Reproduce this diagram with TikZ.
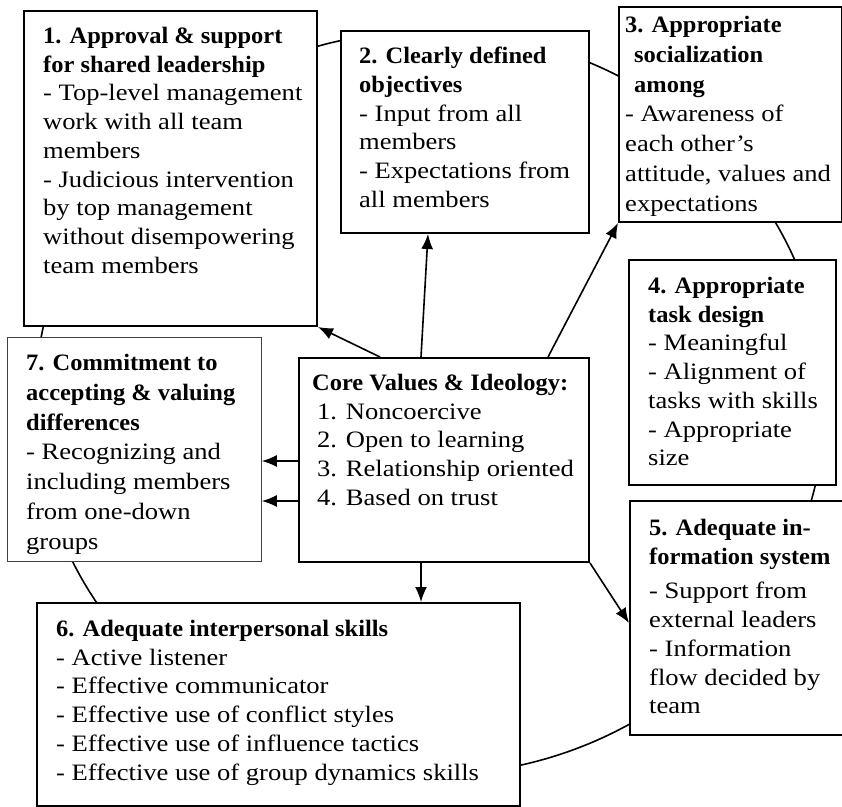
\documentclass[tikz,border=0pt]{standalone}
\usepackage{fontspec}
\setmainfont{Liberation Serif}[FakeStretch=1.13,BoldFeatures={FakeStretch=1.04}]
\usetikzlibrary{arrows.meta}
\tikzset{
  box/.style={draw, line width=2pt, fill=white, anchor=north west, inner sep=0pt},
  thinbox/.style={box, draw=black!75, line width=0.8pt},
  txt/.style={anchor=north west, align=left, inner sep=0pt, font=\fontsize{23.5}{28.7}\selectfont},
  widetxt/.style={txt, font=\fontsize{23.5}{29.8}\selectfont},
  link/.style={-{Latex[length=15pt,width=12pt]}, line width=1.6pt}
}

\begin{document}
\begin{tikzpicture}[x=1pt,y=-1pt]
\path [use as bounding box, clip] (0,0) rectangle (842,806);
\draw [line width=1.6pt] (430,403) ellipse [x radius=395, y radius=372];
\node [box, minimum width=293pt, minimum height=315pt] (appr) at (23,10) {};
\node [box, minimum width=248pt, minimum height=202pt] (obj) at (340,30) {};
\node [box, minimum width=223pt, minimum height=215pt] (social) at (618,6) {};
\node [box, minimum width=207pt, minimum height=225pt] (task) at (628,259) {};
\node [box, minimum width=240pt, minimum height=234pt] (info) at (629,500) {};
\node [box, minimum width=483pt, minimum height=203pt] (skill) at (36,602) {};
\node [thinbox, minimum width=254pt, minimum height=224pt] (diff) at (7,337) {};
\node [box, minimum width=290pt, minimum height=204pt] (core) at (298,357) {};
\node [txt] (appr text) at (43,27) {\textbf{1. Approval \& support}\\\textbf{for shared leadership}\\- Top-level management\\work with all team\\members\\- Judicious intervention\\by top management\\without disempowering\\team members};
\node [txt] (obj text) at (359,47) {\textbf{2. Clearly defined}\\\textbf{objectives}\\- Input from all\\members\\- Expectations from\\all members};
\node [widetxt] (social text) at (625,16) {\textbf{3. Appropriate}\\\hspace*{9pt}\textbf{socialization}\\\hspace*{9pt}\textbf{among}\\- Awareness of\\each other's\\attitude, values and\\expectations};
\node [txt] (task text) at (648,277) {\textbf{4. Appropriate}\\\textbf{task design}\\- Meaningful\\- Alignment of\\tasks with skills\\- Appropriate\\size};
\node [txt] (info text) at (649,519) {\textbf{5. Adequate in-}\\\textbf{formation system}\\[6pt]- Support from\\external leaders\\- Information\\flow decided by\\team};
\node [txt] (skill text) at (56,620) {\textbf{6. Adequate interpersonal skills}\\- Active listener\\- Effective communicator\\- Effective use of conflict styles\\- Effective use of influence tactics\\- Effective use of group dynamics skills};
\node [widetxt] (diff text) at (26,354) {\textbf{7. Commitment to}\\\textbf{accepting \& valuing}\\\textbf{differences}\\- Recognizing and\\including members\\from one-down\\groups};
\node [txt] (core text) at (312,374) {\textbf{Core Values \& Ideology:}\\\hspace*{5pt}1. Noncoercive\\\hspace*{5pt}2. Open to learning\\\hspace*{5pt}3. Relationship oriented\\\hspace*{5pt}4. Based on trust};
\draw [link] ([xshift=82pt]core.north west) -- (appr.south east);
\draw [link] ([xshift=123pt]core.north west) -- ([xshift=88pt]obj.south west);
\draw [link] ([xshift=250pt]core.north west) -- (social.south west);
\draw [link] ([yshift=-104pt]core.north west) -- ([yshift=-124pt]diff.north east);
\draw [link] ([yshift=-144pt]core.north west) -- ([yshift=-164pt]diff.north east);
\draw [link] ([xshift=123pt]core.south west) -- ([xshift=385pt]skill.north west);
\draw [link] (core.south east) -- ([yshift=-123pt]info.north west);
\end{tikzpicture}
\end{document}
